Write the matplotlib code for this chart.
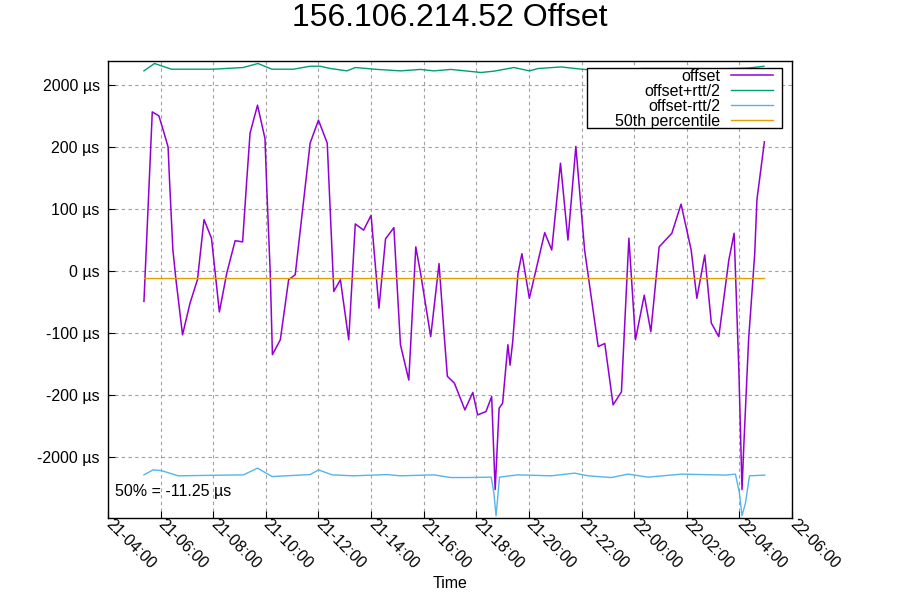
"""Recreate the gnuplot-style NTP offset chart for 156.106.214.52."""

import matplotlib

matplotlib.use("Agg")
import matplotlib.dates as mdates
import matplotlib.pyplot as plt
import numpy as np
import pandas as pd
from matplotlib.patches import Rectangle
from matplotlib.ticker import NullLocator

plt.rcParams["font.family"] = ["Liberation Sans", "DejaVu Sans"]

TITLE = "156.106.214.52 Offset"
MEDIAN_US = -11.25
Y_TICKS = [-2000, -200, -100, 0, 100, 200, 2000]

# offset (µs), sample times as "day-HH:MM"
offset_times = [
    "21-05:22", "21-05:41", "21-05:56", "21-06:06", "21-06:17", "21-06:21", "21-06:28",
    "21-06:35", "21-06:50", "21-07:07", "21-07:24", "21-07:39", "21-07:56", "21-08:14",
    "21-08:31", "21-08:50", "21-09:07", "21-09:16", "21-09:24", "21-09:41", "21-09:58",
    "21-10:02", "21-10:10", "21-10:15", "21-10:33", "21-10:52", "21-11:07", "21-11:41",
    "21-12:00", "21-12:20", "21-12:35", "21-12:50", "21-13:09", "21-13:24", "21-13:43",
    "21-14:00", "21-14:18", "21-14:33", "21-14:52", "21-15:07", "21-15:26", "21-15:42",
    "21-15:53", "21-16:16", "21-16:35", "21-16:47", "21-16:54", "21-17:10", "21-17:34",
    "21-17:52", "21-18:03", "21-18:22", "21-18:35", "21-18:43", "21-18:52", "21-19:00",
    "21-19:12", "21-19:17", "21-19:23", "21-19:35", "21-19:44", "21-20:01", "21-20:36",
    "21-20:52", "21-21:12", "21-21:29", "21-21:47", "21-22:07", "21-22:38", "21-22:53",
    "21-23:12", "21-23:31", "21-23:48", "22-00:03", "22-00:23", "22-00:38", "22-00:57",
    "22-01:26", "22-01:47", "22-02:10", "22-02:23", "22-02:41", "22-02:56", "22-03:13",
    "22-03:36", "22-03:48", "22-03:59", "22-04:06", "22-04:10", "22-04:21", "22-04:35",
    "22-04:40", "22-04:57",
]
offset_us = [
    -49, 1224, 1109, 693, 209, 136, 34,
    -14, -103, -52, -14, 83, 53, -66,
    -3, 49, 47, 142, 607, 1419, 452,
    136, -3, -135, -111, -14, -6, 317,
    983, 317, -33, -14, -111, 76, 66,
    90, -60, 52, 70, -119, -176, 39,
    -4, -106, 12, -106, -170, -181, -636,
    -196, -781, -685, -249, -2950, -587, -441,
    -119, -152, -114, -4, 28, -44, 62,
    34, 174, 50, 220, 34, -122, -117,
    -490, -195, 53, -111, -39, -98, 39,
    61, 108, 34, -44, 26, -84, -106,
    18, 61, -165, -2950, -1700, -111, 28,
    115, 353,
]

# offset + rtt/2 (µs)
upper_times = [
    "21-05:22", "21-05:46", "21-06:25", "21-07:59", "21-09:08", "21-09:42", "21-10:14",
    "21-11:03", "21-11:41", "21-12:04", "21-12:27", "21-13:05", "21-13:24", "21-14:14",
    "21-15:07", "21-15:53", "21-16:23", "21-17:02", "21-18:11", "21-18:40", "21-19:26",
    "21-20:01", "21-20:21", "21-21:14", "21-22:00", "21-23:08", "22-00:17", "22-01:48",
    "22-03:20", "22-04:21", "22-04:56",
]
upper_us = [
    2416, 2630, 2464, 2464, 2513, 2630, 2464,
    2464, 2551, 2551, 2485, 2416, 2513, 2458,
    2416, 2458, 2416, 2458, 2369, 2407, 2513,
    2416, 2485, 2530, 2464, 2407, 2485, 2485,
    2475, 2498, 2551,
]

# offset - rtt/2 (µs)
lower_times = [
    "21-05:22", "21-05:43", "21-06:02", "21-06:40", "21-09:09", "21-09:41", "21-10:14",
    "21-11:41", "21-12:00", "21-12:31", "21-13:20", "21-14:37", "21-15:07", "21-16:23",
    "21-17:02", "21-17:40", "21-18:34", "21-18:40", "21-18:45", "21-18:53", "21-19:35",
    "21-20:51", "21-21:44", "21-22:15", "21-23:08", "21-23:46", "22-00:32", "22-01:48",
    "22-03:28", "22-03:51", "22-04:00", "22-04:06", "22-04:14", "22-04:23", "22-04:58",
]
lower_us = [
    -2523, -2378, -2400, -2551, -2523, -2328, -2572,
    -2515, -2378, -2523, -2551, -2515, -2551, -2523,
    -2601, -2601, -2589, -3045, -3713, -2589, -2523,
    -2551, -2473, -2551, -2601, -2502, -2589, -2502,
    -2530, -2502, -3045, -3713, -3335, -2551, -2530,
]


def to_dt(labels):
    return pd.to_datetime(["2024-01-" + s for s in labels], format="%Y-%m-%d-%H:%M")


# linear between +-200 µs, compressed beyond
def _fwd(v):
    v = np.asarray(v, dtype=float)
    a = np.abs(v)
    return np.where(a <= 200, v / 100.0, np.sign(v) * (2 + (a - 200) / 1800.0))


def _inv(t):
    t = np.asarray(t, dtype=float)
    a = np.abs(t)
    return np.where(a <= 2, t * 100.0, np.sign(t) * (200 + (a - 2) * 1800.0))


def main():
    fig = plt.figure(figsize=(9, 6), dpi=100)
    ax = fig.add_axes([0.12, 0.137, 0.76, 0.761])
    ax.set_yscale("function", functions=(_fwd, _inv))

    t_off = to_dt(offset_times)
    ax.plot(t_off, offset_us, color="#9400d3", lw=1.1, label="offset", zorder=3)
    ax.plot(to_dt(upper_times), upper_us, color="#009e73", lw=1.0, label="offset+rtt/2", zorder=3)
    ax.plot(to_dt(lower_times), lower_us, color="#56b4e9", lw=1.0, label="offset-rtt/2", zorder=3)
    ax.plot([t_off[0], t_off[-1]], [MEDIAN_US, MEDIAN_US], color="#e69f00", lw=1.0,
            label="50th percentile", zorder=3)

    ax.set_xlim(pd.Timestamp("2024-01-21 04:00"), pd.Timestamp("2024-01-22 06:00"))
    ax.set_ylim(-3771, 2697)
    ax.set_yticks(Y_TICKS)
    ax.set_yticklabels([f"{v} µs" for v in Y_TICKS])
    ax.yaxis.set_minor_locator(NullLocator())

    ax.xaxis.set_major_locator(mdates.HourLocator(byhour=range(0, 24, 2)))
    ax.xaxis.set_major_formatter(mdates.DateFormatter("%d-%H:%M"))

    ax.tick_params(direction="in", length=5, width=0.8, labelsize=11.5, colors="black")
    ax.tick_params(axis="y", pad=6)
    ax.tick_params(axis="x", pad=3)
    for lab in ax.get_xticklabels():
        lab.set_rotation(-45)
        lab.set_ha("left")
        lab.set_va("center")
        lab.set_rotation_mode("anchor")

    ax.grid(True, color="#a0a0a0", lw=0.8, linestyle=(0, (3, 3)))
    for sp in ax.spines.values():
        sp.set_color("black")
        sp.set_linewidth(1.0)

    ax.set_xlabel("Time", fontsize=11.5)
    ax.xaxis.set_label_coords(0.5, -0.128)
    fig.suptitle(TITLE, fontsize=23, y=0.995, va="top")
    ax.text(0.01, 0.057, f"50% = {MEDIAN_US} µs", transform=ax.transAxes, fontsize=11.5,
            ha="left", va="center")

    # gnuplot-style key box: wider than its contents, drawn by hand
    ax.add_patch(Rectangle((0.7003, 0.8534), 0.2851, 0.1313, transform=ax.transAxes,
                           facecolor="white", edgecolor="black", lw=1.0, zorder=4))
    leg = ax.legend(loc="upper right", bbox_to_anchor=(0.9722, 0.983), markerfirst=False,
                    fontsize=11.5, frameon=False, handlelength=2.6, handletextpad=0.7,
                    labelspacing=0.0, borderpad=0, borderaxespad=0)
    leg.set_zorder(5)
    for txt in leg.get_texts():
        txt.set_ha("right")
    leg._legend_box.align = "right"

    fig.savefig("out.png", dpi=100)
    plt.close(fig)


if __name__ == "__main__":
    main()
